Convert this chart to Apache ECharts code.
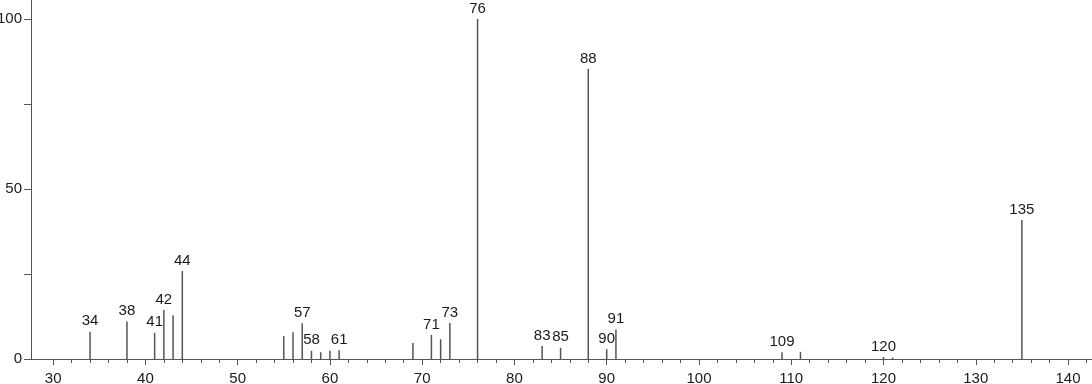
<!DOCTYPE html>
<html>
<head>
<meta charset="utf-8">
<script src="https://cdn.jsdelivr.net/npm/echarts@6/dist/echarts.min.js"></script>
<style>
html,body{margin:0;padding:0;background:#fff;}
#chart{width:1092px;height:384px;}
</style>
</head>
<body>
<div id="chart"></div>
<script>
// m/z values and relative intensities
const mz =        [34, 38, 41, 42, 43, 44, 55, 56, 57, 58, 59, 60, 61, 69, 71, 72, 73, 76, 83, 85, 88, 90, 91, 109, 111, 120, 121, 135];
const intensity = [8.0, 11.0, 7.7, 14.4, 12.9, 25.9, 6.8, 7.9, 10.5, 2.4, 2.0, 2.4, 2.6, 4.7, 7.1, 5.8, 10.6, 100, 3.8, 3.3, 85.3, 2.9, 8.7, 2.0, 2.1, 0.6, 0.4, 40.9];
// peaks that carry a text label
const labeledMz = [34, 38, 41, 42, 44, 57, 58, 61, 71, 73, 76, 83, 85, 88, 90, 91, 109, 120, 135];

// axis ticks and labels
const xLabelValues = [30, 40, 50, 60, 70, 80, 90, 100, 110, 120, 130, 140];
const xMinorTicks = [32, 34, 36, 38, 42, 44, 46, 48, 52, 54, 56, 58, 62, 64, 66, 68, 72, 74, 76, 78, 82, 84, 86, 88, 92, 94, 96, 98, 102, 104, 106, 108, 112, 114, 116, 118, 122, 124, 126, 128, 132, 134, 136, 138, 142];
const yTickValues = [0, 25, 50, 75, 100];
const yLabelValues = [0, 50, 100];

const xMin = 27.6, xMax = 142.6, yMin = 0, yMax = 105.6;

const seriesData = mz.map((m, i) => ({
  value: [m, intensity[i]],
  label: { show: labeledMz.indexOf(m) >= 0 }
}));

const axisColor = '#555';
const textColor = '#1a1a1a';
const font = 'Liberation Sans, Arial, sans-serif';

const chart = echarts.init(document.getElementById('chart'), null, { renderer: 'canvas' });
chart.setOption({
  animation: false,
  backgroundColor: '#fff',
  grid: { left: 31, right: 0, top: 0, bottom: 25, containLabel: false, outerBoundsMode: 'none' },
  xAxis: [
    {
      type: 'value', min: xMin, max: xMax, position: 'bottom',
      axisLine: { show: true, lineStyle: { color: axisColor, width: 1 } },
      axisTick: { show: true, length: 6, lineStyle: { color: axisColor }, customValues: xLabelValues },
      axisLabel: { show: true, customValues: xLabelValues, margin: 12, color: textColor, fontSize: 15, fontFamily: font, hideOverlap: false },
      splitLine: { show: false }
    },
    {
      type: 'value', min: xMin, max: xMax, position: 'bottom',
      axisLine: { show: false },
      axisTick: { show: true, length: 4, lineStyle: { color: axisColor }, customValues: xMinorTicks },
      axisLabel: { show: false },
      splitLine: { show: false }
    }
  ],
  yAxis: {
    type: 'value', min: yMin, max: yMax,
    axisLine: { show: true, lineStyle: { color: axisColor, width: 1 } },
    axisTick: { show: true, length: 7, lineStyle: { color: axisColor }, customValues: yTickValues },
    axisLabel: { show: true, customValues: yLabelValues, margin: 9, color: textColor, fontSize: 15, fontFamily: font },
    splitLine: { show: false }
  },
  series: [
    {
      type: 'bar',
      xAxisIndex: 0,
      barWidth: 1.5,
      itemStyle: { color: '#555' },
      label: {
        position: 'top', distance: 3, color: textColor, fontSize: 15, fontFamily: font,
        formatter: p => String(p.value[0])
      },
      labelLayout: { hideOverlap: false },
      data: seriesData
    }
  ]
});
</script>
</body>
</html>
